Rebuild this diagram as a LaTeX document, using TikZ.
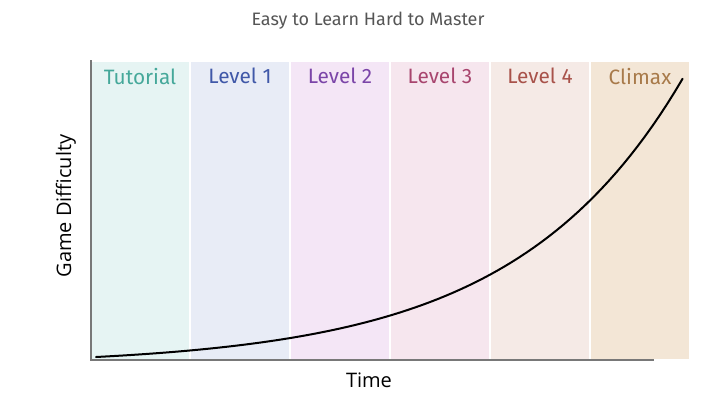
\documentclass[tikz,border=0pt]{standalone}
\usepackage{fontspec}
\usepackage{tikz}
\usetikzlibrary{positioning}
\setmainfont{Fira Sans}
\newfontfamily\axisfont{Open Sans}

\definecolor{tutfill}{RGB}{230,244,243}
\definecolor{lvafill}{RGB}{232,236,246}
\definecolor{lvbfill}{RGB}{244,230,246}
\definecolor{lvcfill}{RGB}{246,230,238}
\definecolor{lvdfill}{RGB}{245,234,230}
\definecolor{climfill}{RGB}{243,230,214}
\definecolor{tuttext}{RGB}{69,168,154}
\definecolor{lvatext}{RGB}{64,88,168}
\definecolor{lvbtext}{RGB}{123,69,168}
\definecolor{lvctext}{RGB}{168,69,110}
\definecolor{lvdtext}{RGB}{168,82,74}
\definecolor{climtext}{RGB}{168,122,74}
\definecolor{axisgrey}{RGB}{120,120,120}
\definecolor{titlegrey}{RGB}{85,85,85}

\tikzset{
  band/.style={draw=white, line width=1.1pt, outer sep=0pt, minimum width=75pt, minimum height=224pt, inner sep=0pt, anchor=north west},
  bandlabel/.style={inner sep=0.75pt, font=\fontsize{15.6}{18}\selectfont},
  axisline/.style={draw=axisgrey, line width=1pt},
  axislabel/.style={inner sep=0.75pt, font=\axisfont\fontsize{15}{17}\selectfont},
  curve/.style={line width=1.5pt, line cap=round}
}

\begin{document}
\begin{tikzpicture}[x=0.75pt,y=0.75pt,yscale=-1,xscale=1]
    \useasboundingbox (0,0) rectangle (726,412);

    % Bands
    \foreach \i/\fc/\tc/\txt in {0/tutfill/tuttext/Tutorial, 1/lvafill/lvatext/Level 1, 2/lvbfill/lvbtext/Level 2, 3/lvcfill/lvctext/Level 3, 4/lvdfill/lvdtext/Level 4, 5/climfill/climtext/Climax}{
        \node [band, fill=\fc] (band\i) at ({90+100*\i},61) {};
        \node [bandlabel, text=\tc, below=4.5pt of band\i.north] (label\i) {\txt};
    }

    % Axes
    \coordinate (origin) at (91,360);
    \coordinate (ytop) at (91,60);
    \coordinate (xend) at (654,360);
    \draw [axisline] (ytop) -- (origin) -- (xend);

    % Difficulty curve
    \draw [curve] plot [domain=0:1, samples=80] ({96+587*\x}, {357-8.687*(exp(3.5*\x)-1)});

    % Text Node
    \node [inner sep=0.75pt, text=titlegrey, font=\fontsize{13.5}{16}\selectfont] (title) at (368,21) {Easy to Learn Hard to Master};
    % Text Node
    \node [axislabel] (xlabel) at (369,380) {Time};
    % Text Node
    \node [axislabel, rotate=90] (ylabel) at (66,206) {Game Difficulty};

\end{tikzpicture}
\end{document}
